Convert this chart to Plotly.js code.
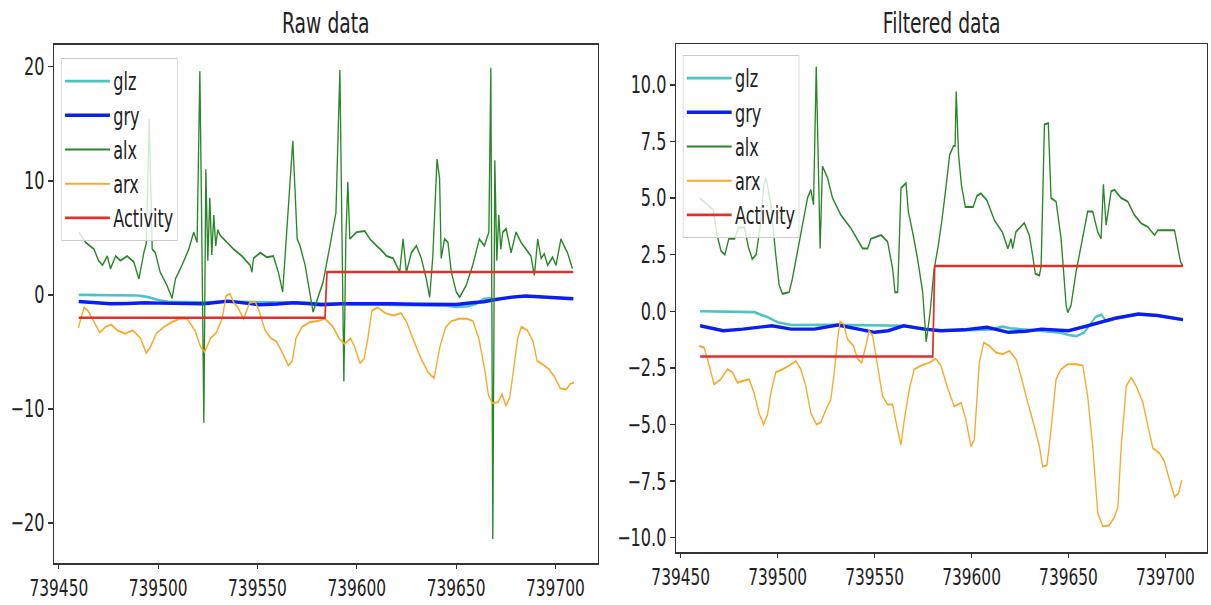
<!DOCTYPE html>
<html>
<head>
<meta charset="utf-8">
<script src="https://cdn.plot.ly/plotly-3.0.1.min.js"></script>
<style>
html,body{margin:0;padding:0;background:#fff;}
#wrap{width:1211px;height:605px;overflow:hidden;position:relative;}
#plot{width:1808px;height:605px;transform:scaleX(0.6698);transform-origin:0 0;}
</style>
</head>
<body>
<div id="wrap"><div id="plot"></div></div>
<script>
// ---------- data ----------
const seriesNames = ["glz", "gry", "alx", "arx", "Activity"];
const subplotTitles = ["Raw data", "Filtered data"];

const xTickVals = [739450, 739500, 739550, 739600, 739650, 739700];
const xTickText = ["739450", "739500", "739550", "739600", "739650", "739700"];
const rawYTickVals = [-20, -10, 0, 10, 20];
const rawYTickText = ["\u221220", "\u221210", "0", "10", "20"];
const filtYTickVals = [-10, -7.5, -5, -2.5, 0, 2.5, 5, 7.5, 10];
const filtYTickText = ["\u221210.0", "\u22127.5", "\u22125.0", "\u22122.5", "0.0", "2.5", "5.0", "7.5", "10.0"];

// Raw data
const rawGlzX = [739460, 739475, 739490, 739495, 739500, 739505, 739520, 739540, 739560, 739575, 739590, 739610, 739630, 739645, 739650, 739656, 739660, 739664, 739667, 739670, 739685, 739709];
const rawGlzY = [0.0, 0.0, -0.05, -0.2, -0.45, -0.6, -0.65, -0.6, -0.62, -0.7, -0.8, -0.85, -0.85, -0.95, -1.05, -1.0, -0.8, -0.35, -0.3, -0.4, -0.1, -0.34];

const rawGryX = [739460, 739468, 739476, 739485, 739493, 739500, 739510, 739523, 739530, 739535, 739543, 739551, 739560, 739568, 739575, 739582, 739592, 739605, 739617, 739630, 739642, 739650, 739658, 739664, 739670, 739678, 739685, 739695, 739709];
const rawGryY = [-0.58, -0.7, -0.78, -0.75, -0.69, -0.72, -0.72, -0.78, -0.65, -0.55, -0.7, -0.87, -0.8, -0.69, -0.75, -0.87, -0.78, -0.75, -0.78, -0.82, -0.87, -0.85, -0.69, -0.6, -0.4, -0.2, -0.1, -0.18, -0.34];

const rawAlxX = [739460, 739463.5, 739467.7, 739470, 739472, 739474.4, 739476, 739478.6, 739481, 739484.4, 739487.7, 739490.3, 739492.8, 739494, 739495.5, 739497, 739498.6, 739501, 739504.5, 739507, 739508.7, 739512, 739515.4, 739517.9, 739519.6, 739521, 739522, 739523, 739524, 739525, 739526, 739527, 739528, 739529, 739530, 739531.3, 739538, 739542.2, 739546.3, 739547.2, 739548, 739551.4, 739554.7, 739558, 739560.5, 739562.7, 739567.8, 739570, 739571.4, 739574, 739578, 739583, 739586.5, 739589.5, 739591.5, 739592.5, 739593.5, 739594.5, 739595.5, 739596.5, 739599.9, 739604, 739606.6, 739610, 739612.5, 739615, 739618.3, 739620.8, 739621.6, 739623.3, 739625, 739627.5, 739630, 739632.5, 739635, 739636.7, 739638.3, 739640.4, 739641.7, 739642.5, 739644.2, 739645.9, 739647.6, 739650.1, 739651.8, 739655, 739658.4, 739661.7, 739664.2, 739666.5, 739667.5, 739668.5, 739669.5, 739670.5, 739671.5, 739672.5, 739673.5, 739675.2, 739677.7, 739680.2, 739682.7, 739685.2, 739687.7, 739689.4, 739691.1, 739692.8, 739694.4, 739696.1, 739698.6, 739700.3, 739702.8, 739704.4, 739706.1, 739708.6];
const rawAlxY = [5.5, 4.6, 4.0, 3.0, 2.6, 3.4, 2.3, 3.4, 3.0, 3.4, 2.9, 1.4, 3.7, 4.5, 15.4, 4.0, 3.7, 2.0, 0.8, -0.3, 1.4, 2.6, 4.0, 5.5, 4.6, 19.6, 5.0, -11.2, 11.0, 3.0, 8.5, 3.5, 7.0, 4.3, 5.7, 5.2, 4.0, 3.4, 2.6, 2.0, 3.2, 3.7, 3.3, 3.4, 2.0, 0.25, 13.5, 4.9, 4.3, 2.6, -1.5, 1.1, 4.3, 7.2, 19.7, 5.0, -7.6, 5.0, 9.9, 4.9, 5.5, 5.6, 4.9, 4.3, 3.9, 3.4, 3.2, 2.3, 2.0, 4.9, 2.0, 3.7, 4.3, 3.2, 1.4, -0.2, 3.4, 11.9, 10.2, 3.2, 4.9, 4.6, 2.0, 0.25, -0.2, 0.8, 2.6, 4.9, 4.3, 5.5, 19.9, -21.4, 11.8, 3.0, 7.0, 4.0, 5.5, 5.8, 3.7, 5.5, 4.6, 4.0, 3.4, 1.7, 4.9, 3.2, 3.6, 2.6, 3.3, 2.6, 4.9, 4.3, 3.7, 2.3];

const rawArxX = [739459.8, 739461, 739462.7, 739464.7, 739467.6, 739470.6, 739473.5, 739476.4, 739479.4, 739483.3, 739487.2, 739491.1, 739494, 739496, 739499, 739502.9, 739506.8, 739510.7, 739514.6, 739518.5, 739521.5, 739523.4, 739526.4, 739529.3, 739532.2, 739534.2, 739536.1, 739538.1, 739540.1, 739543, 739546, 739548.9, 739550.8, 739553.8, 739556.7, 739559.6, 739562.6, 739565.5, 739567.5, 739569.4, 739572.4, 739576.3, 739580.2, 739584.1, 739588, 739591, 739593.9, 739596.8, 739598.8, 739601.7, 739603.7, 739605.6, 739607.6, 739610.5, 739614.4, 739618.4, 739622.3, 739625.2, 739628.2, 739632.1, 739636, 739638.9, 739641.9, 739644.8, 739647.7, 739651.6, 739655.5, 739658.5, 739661.4, 739664.4, 739666.3, 739668.3, 739671.2, 739673.1, 739675.1, 739677, 739679, 739681, 739682.9, 739685.9, 739688.8, 739690.8, 739693.7, 739696.7, 739699.6, 739702.5, 739705.5, 739707.4, 739709.4];
const rawArxY = [-2.9, -2.1, -1.1, -1.4, -2.3, -3.3, -2.8, -2.6, -3.1, -3.4, -3.1, -3.8, -5.1, -4.6, -3.4, -2.8, -2.4, -2.1, -2.1, -3.1, -4.6, -5.0, -3.8, -3.3, -2.1, -0.1, 0.1, -0.7, -1.1, -2.1, -0.7, -0.6, -1.4, -3.1, -3.8, -4.1, -5.1, -6.2, -5.8, -3.8, -2.8, -2.4, -2.3, -2.1, -2.8, -3.8, -4.3, -3.8, -4.5, -6.0, -5.6, -3.8, -1.4, -1.1, -1.6, -1.8, -1.6, -2.4, -3.8, -5.5, -6.8, -7.3, -4.5, -2.8, -2.3, -2.1, -2.1, -2.3, -3.8, -6.5, -8.8, -9.5, -9.4, -8.7, -9.7, -9.0, -6.5, -3.8, -2.8, -3.1, -4.1, -5.8, -6.1, -6.5, -7.2, -8.2, -8.3, -7.8, -7.7];

const rawActX = [739460, 739584, 739585, 739709];
const rawActY = [-2, -2, 2, 2];

// Filtered data
const filtGlzX = [739460, 739488, 739495, 739500, 739507, 739530, 739565, 739575, 739590, 739610, 739616, 739620, 739635, 739646, 739650, 739654, 739658, 739661, 739664, 739667, 739669.5, 739674, 739686, 739696, 739709];
const filtGlzY = [0.0, -0.04, -0.27, -0.49, -0.61, -0.6, -0.64, -0.8, -0.86, -0.8, -0.68, -0.75, -0.86, -0.95, -1.05, -1.1, -0.95, -0.6, -0.25, -0.15, -0.45, -0.33, -0.14, -0.2, -0.39];

const filtGryX = [739460, 739466, 739472, 739482, 739490, 739497, 739507, 739519, 739531, 739541, 739550, 739557, 739565, 739576, 739584, 739596, 739608, 739619, 739628, 739636, 739650, 739660, 739670, 739674, 739686, 739696, 739709];
const filtGryY = [-0.64, -0.75, -0.86, -0.79, -0.7, -0.64, -0.79, -0.79, -0.61, -0.79, -0.93, -0.86, -0.64, -0.79, -0.86, -0.82, -0.71, -0.93, -0.88, -0.79, -0.86, -0.64, -0.42, -0.31, -0.12, -0.19, -0.37];

const filtAlxX = [739459.7, 739466.7, 739468.8, 739470.8, 739472.8, 739474.8, 739477.8, 739479.8, 739482.9, 739484.9, 739486.9, 739488.9, 739490.9, 739492.9, 739494, 739496.5, 739499, 739500.8, 739502.5, 739505.9, 739507.6, 739510.2, 739512.8, 739515.4, 739517.1, 739518.5, 739519.9, 739521.9, 739523.1, 739525.7, 739528.3, 739532.6, 739537.8, 739543.8, 739546.4, 739548.1, 739553.3, 739556.7, 739559.3, 739560.5, 739561.9, 739563.6, 739566.2, 739567.4, 739569.6, 739572.2, 739574.8, 739576.6, 739578.6, 739580.6, 739582.7, 739584.7, 739586.7, 739588.7, 739590.7, 739591.5, 739592.1, 739593.3, 739594.8, 739596.8, 739600.8, 739602.8, 739604.8, 739607.9, 739611.9, 739615.9, 739618.7, 739620.4, 739621.2, 739622.9, 739627.2, 739629.8, 739631.5, 739632.9, 739635, 739635.9, 739637.6, 739639.6, 739641, 739643.6, 739646.2, 739648.8, 739649.6, 739651.3, 739653.9, 739656.5, 739659.9, 739662.5, 739665.1, 739666.8, 739668, 739669.4, 739672, 739673.7, 739677.2, 739680.6, 739684, 739687.5, 739690.9, 739694.4, 739696.1, 739704.7, 739706.4, 739707.8, 739709];
const filtAlxY = [5.0, 4.5, 3.35, 2.66, 2.5, 3.2, 3.2, 3.7, 3.7, 2.83, 2.3, 2.5, 3.7, 5.56, 5.88, 4.7, 2.5, 1.14, 0.77, 0.84, 1.44, 2.6, 3.8, 5.0, 5.36, 4.7, 10.8, 2.77, 6.4, 5.9, 5.0, 4.25, 3.66, 2.77, 2.77, 3.2, 3.36, 3.07, 1.88, 0.84, 0.84, 5.44, 5.66, 4.4, 3.5, 2.3, 0.84, -1.35, -0.07, 1.8, 2.83, 4.0, 5.4, 6.9, 7.3, 7.3, 9.7, 6.9, 5.56, 4.6, 4.6, 5.1, 5.2, 4.9, 4.0, 3.5, 2.77, 3.2, 2.77, 3.5, 3.9, 3.36, 2.47, 1.66, 1.58, 2.0, 8.25, 8.3, 5.0, 4.84, 3.2, 0.25, -0.05, 0.25, 1.73, 2.92, 4.4, 4.4, 3.5, 3.2, 5.6, 3.8, 5.3, 5.36, 5.0, 4.84, 4.25, 3.88, 3.73, 3.36, 3.58, 3.58, 2.77, 2.18, 2.0];

const filtArxX = [739459.5, 739462, 739463.8, 739467.2, 739470.7, 739474.1, 739476.7, 739479.3, 739481.9, 739485.3, 739487.8, 739490.4, 739492.7, 739494.8, 739496.5, 739499, 739502.5, 739505.9, 739509.4, 739512, 739514.5, 739517.1, 739520, 739522.3, 739524.9, 739527.4, 739529.2, 739530.9, 739532.2, 739534, 739536, 739539.1, 739541.2, 739543.3, 739545.5, 739547.2, 739549, 739551.5, 739554.1, 739556.7, 739559.3, 739561.5, 739563.6, 739565.3, 739567.9, 739570.4, 739573.9, 739578.2, 739581.6, 739584.2, 739587.7, 739591.1, 739594.6, 739597.1, 739599.7, 739601.4, 739604, 739606.3, 739609.2, 739612.6, 739616.1, 739619.5, 739623, 739625.5, 739629, 739632.4, 739635, 739636.7, 739638.9, 739641, 739643.6, 739646.2, 739649.6, 739653.9, 739657.4, 739659.9, 739662.5, 739665.1, 739667.7, 739671.1, 739673.7, 739675.5, 739677.2, 739679.8, 739682.3, 739684.9, 739688.4, 739691, 739693.5, 739697, 739699.5, 739702.1, 739704.7, 739706.7, 739708.5];
const filtArxY = [-1.53, -1.6, -2.1, -3.23, -3.0, -2.56, -2.7, -3.16, -3.08, -3.0, -3.6, -4.5, -5.0, -4.56, -3.6, -2.7, -2.56, -2.4, -2.2, -2.56, -3.3, -4.5, -5.0, -4.9, -4.34, -3.9, -2.7, -1.23, -0.46, -0.56, -1.23, -1.53, -2.1, -2.27, -1.53, -0.86, -1.08, -2.4, -3.75, -4.12, -4.12, -5.08, -5.9, -4.79, -3.45, -2.56, -2.4, -2.27, -2.1, -2.4, -3.4, -4.2, -4.04, -4.79, -5.97, -5.68, -2.27, -1.38, -1.53, -1.82, -1.9, -1.75, -2.12, -2.86, -4.04, -5.08, -5.97, -6.86, -6.8, -5.23, -3.0, -2.56, -2.34, -2.34, -2.4, -3.75, -5.97, -8.9, -9.5, -9.45, -9.08, -8.64, -5.97, -3.3, -2.93, -3.3, -4.04, -5.08, -6.04, -6.27, -6.64, -7.45, -8.2, -8.04, -7.45];

const filtActX = [739460, 739580, 739581, 739709];
const filtActY = [-2, -2, 2, 2];

// ---------- styling ----------
const colors = {glz: "#4cc4c4", gry: "#0a1ef0", alx: "#2a862a", arx: "#f4aa2c", Activity: "#e0302e"};
const widths = {glz: 2.6, gry: 3.4, alx: 2.0, arx: 2.0, Activity: 2.6};
const FONT = "DejaVu Sans, Verdana, sans-serif";

const rawSeries = {glz: [rawGlzX, rawGlzY], gry: [rawGryX, rawGryY], alx: [rawAlxX, rawAlxY], arx: [rawArxX, rawArxY], Activity: [rawActX, rawActY]};
const filtSeries = {glz: [filtGlzX, filtGlzY], gry: [filtGryX, filtGryY], alx: [filtAlxX, filtAlxY], arx: [filtArxX, filtArxY], Activity: [filtActX, filtActY]};

const traces = [];
seriesNames.forEach(n => {
  traces.push({x: rawSeries[n][0], y: rawSeries[n][1], name: n, type: "scatter", mode: "lines",
    line: {color: colors[n], width: widths[n]}, xaxis: "x", yaxis: "y", legend: "legend"});
});
seriesNames.forEach(n => {
  traces.push({x: filtSeries[n][0], y: filtSeries[n][1], name: n, type: "scatter", mode: "lines",
    line: {color: colors[n], width: widths[n]}, xaxis: "x2", yaxis: "y2", legend: "legend2"});
});

const axisBase = {
  showgrid: false, zeroline: false, showline: true, mirror: true,
  linecolor: "#333", linewidth: 1.5, ticks: "outside", tickcolor: "#333", tickwidth: 1.5,
  tickfont: {family: FONT, size: 24, color: "#222"}, autorange: false
};
const xTickFont = {family: FONT, size: 23, color: "#222"};
const xRange = [739447.55, 739721.45];

const legendBase = {
  xanchor: "left", yanchor: "top", bgcolor: "rgba(255,255,255,0.8)",
  bordercolor: "#cccccc", borderwidth: 1, itemwidth: 67, tracegroupgap: 0,
  font: {family: FONT, size: 24, color: "#222"}
};

const layout = {
  width: 1808, height: 605,
  margin: {l: 0, r: 0, t: 0, b: 0},
  paper_bgcolor: "#fff", plot_bgcolor: "#fff",
  showlegend: true,
  xaxis: Object.assign({}, axisBase, {domain: [0.04458, 0.4938], range: xRange, anchor: "y",
    tickmode: "array", tickvals: xTickVals, ticktext: xTickText, ticklen: 4, tickfont: xTickFont}),
  yaxis: Object.assign({}, axisBase, {domain: [0.06942, 0.92562], range: [-23.5, 21.9], anchor: "x",
    tickmode: "array", tickvals: rawYTickVals, ticktext: rawYTickText, ticklen: 8}),
  xaxis2: Object.assign({}, axisBase, {domain: [0.5582, 0.9967], range: xRange, anchor: "y2",
    tickmode: "array", tickvals: xTickVals, ticktext: xTickText, ticklen: 4, tickfont: xTickFont}),
  yaxis2: Object.assign({}, axisBase, {domain: [0.0876, 0.92727], range: [-10.63, 11.8], anchor: "x2",
    tickmode: "array", tickvals: filtYTickVals, ticktext: filtYTickText, ticklen: 8}),
  legend: Object.assign({}, legendBase, {x: 0.0504, y: 0.9041}),
  legend2: Object.assign({}, legendBase, {x: 0.5638, y: 0.9091}),
  annotations: [
    {text: subplotTitles[0], xref: "paper", yref: "paper", x: 0.2692, y: 0.9608, xanchor: "center", yanchor: "middle",
      showarrow: false, font: {family: FONT, size: 28, color: "#222"}},
    {text: subplotTitles[1], xref: "paper", yref: "paper", x: 0.7775, y: 0.9608, xanchor: "center", yanchor: "middle",
      showarrow: false, font: {family: FONT, size: 28, color: "#222"}}
  ]
};

Plotly.newPlot("plot", traces, layout, {staticPlot: true, displayModeBar: false});
</script>
</body>
</html>
